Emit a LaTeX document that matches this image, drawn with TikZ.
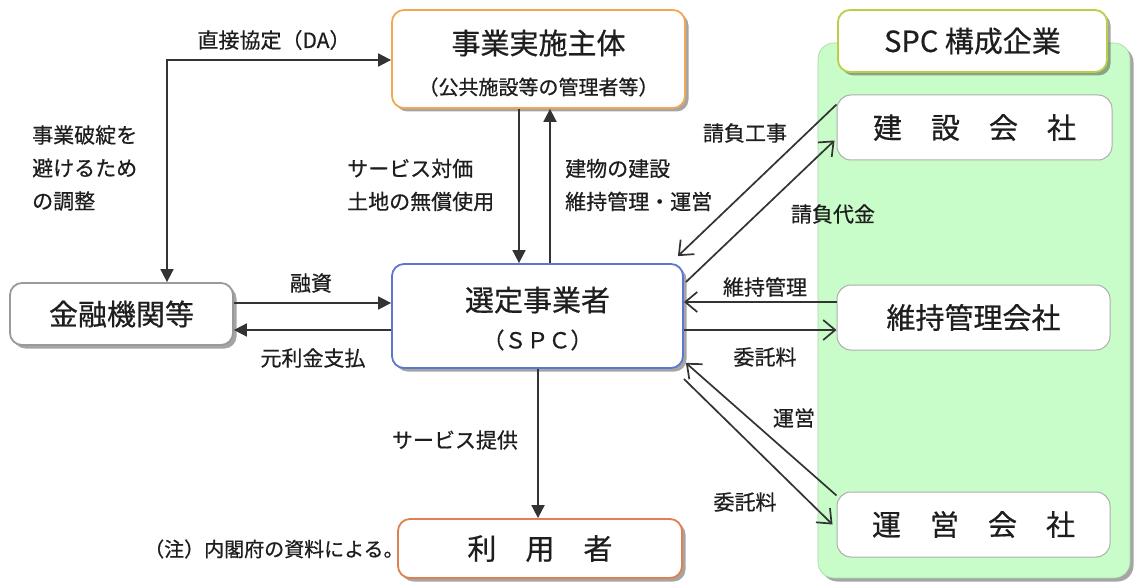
\documentclass[tikz,border=0pt]{standalone}
\usepackage{fontspec}
\setmainfont{Noto Sans CJK JP}[FakeBold=0.6]
\usetikzlibrary{arrows.meta,shadows}
\definecolor{ink}{HTML}{1E1E1E}
\definecolor{arr}{HTML}{333333}
\definecolor{orangeB}{HTML}{F2A850}
\definecolor{blueB}{HTML}{5A78D2}
\definecolor{grayB}{HTML}{9A9A9A}
\definecolor{redB}{HTML}{E08050}
\definecolor{limeB}{HTML}{B8D048}
\definecolor{panelG}{HTML}{C8FCC8}
\newcommand\fsBox{\fontsize{29}{32}\selectfont}
\newcommand\fsSub{\fontsize{20}{24}\selectfont}
\newcommand\fsSpc{\fontsize{22}{24}\selectfont}
\newcommand\fsLab{\fontsize{21}{33}\selectfont}
\newcommand\fsNote{\fontsize{20}{22}\selectfont}
\begin{document}
\begin{tikzpicture}[x=1pt,y=-1pt,
  every node/.style={text=ink, inner sep=0pt},
  shbox/.style={draw, fill=white, rounded corners=12pt, line width=1.8pt,
     drop shadow={shadow xshift=3.5pt,shadow yshift=-3.5pt,opacity=0.5,fill=black!70}},
  compbox/.style={draw=grayB!80, fill=white, rounded corners=14pt, line width=1pt},
  farrow/.style={draw=arr, line width=1.8pt, -{Triangle[length=13pt,width=13pt]}},
  fboth/.style={draw=arr, line width=1.8pt, {Triangle[length=13pt,width=13pt]}-{Triangle[length=13pt,width=13pt]}},
  oarrow/.style={draw=arr, line width=1.7pt, -{Straight Barb[length=12pt,width=20pt]}},
  lab/.style={font=\fsLab, align=left},
]
\fill[white] (0,0) rectangle (1136,583);
\useasboundingbox (0,0) rectangle (1136,583);

% green panel
\node[fill=panelG, draw=panelG!85!black, line width=0.6pt, rounded corners=16pt,
      minimum width=312pt, minimum height=535pt,
      drop shadow={shadow xshift=3.5pt,shadow yshift=-3.5pt,opacity=0.5,fill=black!70}] (panel) at (974,310.5) {};

% main boxes
\node[shbox, draw=orangeB, minimum width=293pt, minimum height=98pt] (jigyo) at (538.5,59) {};
\node[font=\fsBox] (jigyoT) at (538.5,43) {事業実施主体};
\node[font=\fsSub] (jigyoS) at (538.5,87) {（公共施設等の管理者等）};

\node[shbox, draw=grayB, minimum width=223pt, minimum height=62pt, font=\fsBox] (kinyu) at (121.5,314) {金融機関等};

\node[shbox, draw=blueB, minimum width=291pt, minimum height=104pt] (spc) at (537.5,316) {};
\node[font=\fsBox] (spcT) at (537.5,300) {選定事業者};
\node[font=\fsSpc] (spcS) at (537.5,340) {（ＳＰＣ）};

\node[shbox, draw=redB, minimum width=284pt, minimum height=59pt, font=\fsBox] (riyo) at (540,548.5) {利　用　者};

\node[shbox, draw=limeB, minimum width=269pt, minimum height=62pt, font=\fsBox] (spcco) at (972.5,41) {SPC 構成企業};
\node[compbox, minimum width=275pt, minimum height=65pt, font=\fsBox] (kensetsu) at (974.5,127.5) {建　設　会　社};
\node[compbox, minimum width=273pt, minimum height=65pt, font=\fsBox] (iji) at (973.5,317.5) {維持管理会社};
\node[compbox, minimum width=273pt, minimum height=65pt, font=\fsBox] (unei) at (973.5,524.5) {運　営　会　社};

% footnote
\node[font=\fsNote, anchor=west] (note) at (144,549) {（注）内閣府の資料による。};

% labels
\node[font=\fsLab] (lDA) at (274,40) {直接協定（DA）};
\node[lab, anchor=west] (lAdj) at (32,168) {事業破綻を\\避けるため\\の調整};
\node[lab, anchor=west] (lPay) at (347,185) {サービス対価\\土地の無償使用};
\node[lab, anchor=west] (lBld) at (565,185) {建物の建設\\維持管理・運営};
\node[font=\fsLab] (lLoan) at (311,283) {融資};
\node[font=\fsLab] (lRepay) at (313,358) {元利金支払};
\node[font=\fsLab] (lSvc) at (455,440) {サービス提供};
\node[font=\fsLab] (lKouji) at (745,133) {請負工事};
\node[font=\fsLab] (lDaikin) at (833,214) {請負代金};
\node[font=\fsLab] (lIji) at (765,287) {維持管理};
\node[font=\fsLab] (lFee1) at (765,357) {委託料};
\node[font=\fsLab] (lUnei) at (794,418) {運営};
\node[font=\fsLab] (lFee2) at (745,502) {委託料};

% helper coordinates
\coordinate (daTurn) at (167,60);
\coordinate (xA) at (519,0);
\coordinate (xB) at (550,0);
\coordinate (xC) at (538,0);
\coordinate (yA) at (0,303);
\coordinate (yB) at (0,330);
\coordinate (yC) at (0,302);
\coordinate (yD) at (0,330);

% left / centre connectors
\draw[fboth] (kinyu.north -| daTurn) -- (daTurn) -- (jigyo.west |- daTurn);
\draw[farrow] (jigyo.south -| xA) -- (spc.north -| xA);
\draw[farrow] (spc.north -| xB) -- (jigyo.south -| xB);
\draw[farrow] (kinyu.east |- yA) -- (spc.west |- yA);
\draw[farrow] (spc.west |- yB) -- (kinyu.east |- yB);
\draw[farrow] (spc.south -| xC) -- (riyo.north -| xC);

% right connectors
\draw[oarrow] ([shift={(0,10)}]kensetsu.north west) -- ([shift={(-6,-7)}]spc.north east);
\draw[oarrow] ([shift={(2,19)}]spc.north east) -- ([shift={(-2,46)}]kensetsu.north west);
\draw[oarrow] (iji.west |- yC) -- (spc.east |- yC);
\draw[oarrow] (spc.east |- yD) -- (iji.west |- yD);
\draw[oarrow] ([shift={(0,4)}]unei.north west) -- ([shift={(2,-6)}]spc.south east);
\draw[oarrow] ([shift={(0,10)}]spc.south east) -- ([shift={(-4,33)}]unei.north west);
\end{tikzpicture}
\end{document}
